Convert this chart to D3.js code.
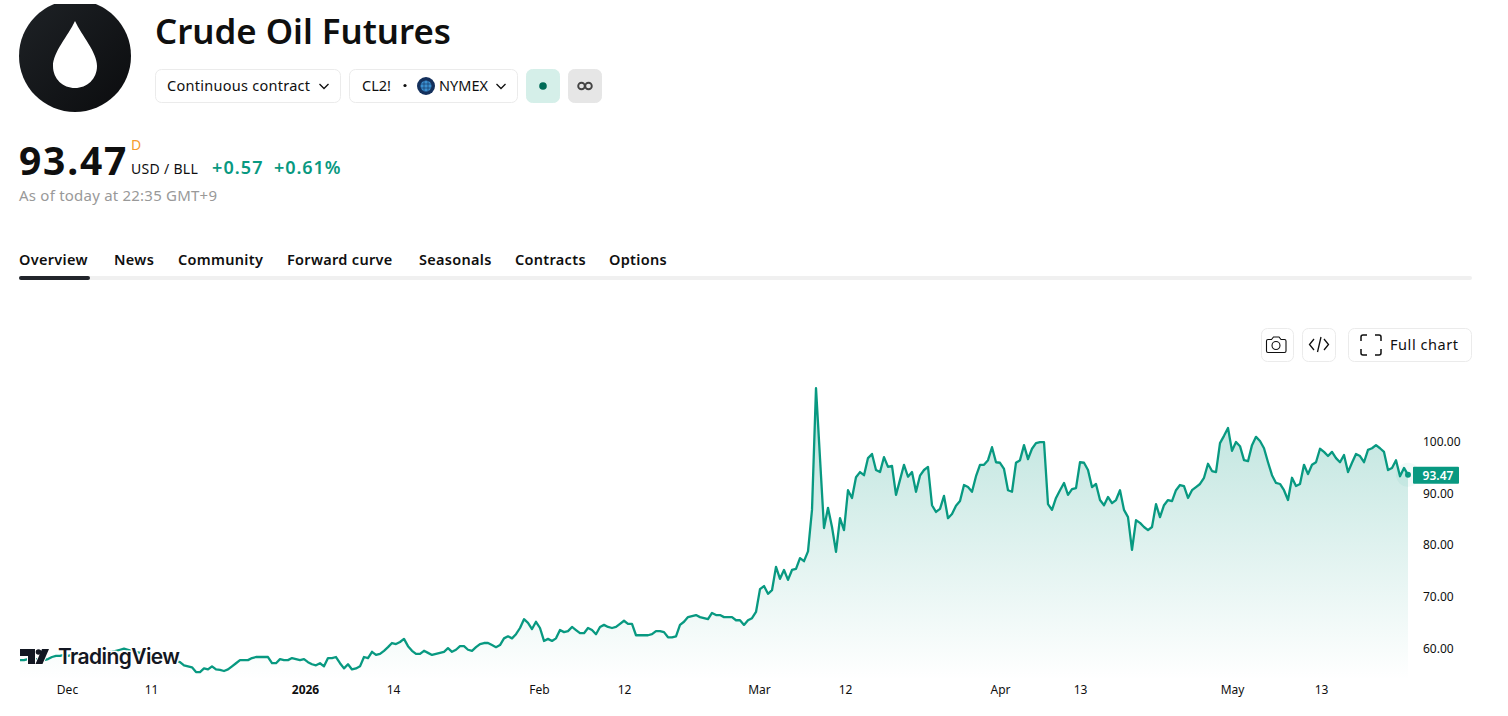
<!DOCTYPE html>
<html>
<head>
<meta charset="utf-8">
<title>Crude Oil Futures</title>
<script src="https://cdn.jsdelivr.net/npm/d3@7"></script>
<style>
  html, body { margin: 0; padding: 0; background: #fff; overflow: hidden; }
  text { font-family: "Noto Sans", "Open Sans", sans-serif; fill: #0f0f0f; }
</style>
</head>
<body>
<div id="svgcontainer"></div>
<script>
// closing prices at an even step along the time axis
const closes = [
  57.7,57.7,57.9,58.1,57.9,57.7,57.7,57.9,58.3,58.5,58.5,58.7,58.5,58.7,58.7,58.9,58.9,58.7,58.9,58.9,
  59.1,59.1,59.3,59.3,59.5,59.7,59.9,59.7,59.5,59.3,59.1,59.3,58.9,58.7,58.7,58.3,58.1,57.9,57.7,57.5,
  57.3,56.7,56.5,56.3,55.4,55.4,56.1,55.9,56.5,55.9,55.8,55.6,55.9,56.5,57.1,57.7,57.7,57.7,58.1,58.3,
  58.3,58.3,58.3,57.1,57.1,57.9,57.7,57.7,58.1,57.9,57.7,57.9,57.3,56.9,56.7,57.1,56.5,58.1,58.1,58.3,
  57.1,56.1,56.9,55.9,56.1,56.5,58.3,58.1,59.3,58.7,58.9,59.5,60.2,61,60.8,61.2,61.8,60.4,59.5,58.9,
  58.9,59.5,59.1,58.7,58.9,59.1,59.3,60,59.3,59.7,60.4,60.4,59.7,59.5,60.2,60.8,61,61,60.6,60.2,
  60.6,61.9,62.3,61.9,62.7,63.9,65.6,64.9,63.7,65.1,63.9,61.4,61.8,61.4,61.9,63.5,63.1,63.3,64.1,63.5,
  62.9,62.9,63.9,63.5,62.7,64.1,64.5,64.1,63.9,64.1,64.7,65.3,64.7,64.7,62.5,62.5,62.5,62.5,62.7,63.3,
  63.3,63.1,62.1,62.1,62.3,64.5,65.1,66,66.2,66.4,66,65.8,65.6,66.8,66.4,66.4,66,66,66,65.4,
  65.4,64.5,65.4,65.8,67,71.4,72,70.5,71.2,75.7,73.4,75.1,73.2,75.1,75.3,77.4,76.8,78.7,86.7,110.2,
  96.7,83.2,87.1,83.4,78.6,85.1,82.8,90.5,89,93,94,93.4,96.7,97.5,94.4,94,96.9,95,95.2,89.6,
  92.5,95.4,93.1,94,90.2,93.3,94.4,95,87.6,86.3,86.9,89.4,85.1,85.9,87.5,88.4,91.5,91.1,90.2,93.2,
  95.4,95.4,96.3,98.8,95.9,95.8,94.6,90.5,90.2,95.8,96.3,99.2,96.5,98.5,99.6,99.8,99.8,87.8,86.7,89,
  90.5,91.9,89.6,90.7,90.9,95.9,95.8,94.4,91.1,91.7,88.6,87.6,89.2,88,88.6,90.5,86.7,85.3,79,84.7,
  84.2,83.4,82.8,83.4,87.8,85.3,87.6,88.6,88.4,90.5,91.5,91.3,89,90.5,91.1,91.7,92.9,95.6,94.2,94,
  99.6,101,102.5,98.1,99.8,99,96.3,96.1,99.2,100.8,100,98.6,95.9,93.4,91.9,91.7,90.5,88.6,92.9,91.3,
  91.7,95.4,93.6,95.4,95.9,98.5,97.9,97.1,97.9,96.7,95.9,97.3,94,95.8,97.5,97.1,95.9,98.3,98.6,99.2,
  98.6,97.9,94.4,94.8,96.3,93.2,94.8,93.47
];

// time axis
const timeTickBars = [11.75, 32.75, 71.25, 93.25, 129.75, 151, 184.75, 206.25, 245, 265, 303, 325.25];
const timeTickLabels = ["Dec", "11", "2026", "14", "Feb", "12", "Mar", "12", "Apr", "13", "May", "13"];

// price axis
const priceTicks = [60, 70, 80, 90, 100];

// page texts
const tabNames = ["Overview", "News", "Community", "Forward curve", "Seasonals", "Contracts", "Options"];
const tabStarts = [19, 114, 178, 287, 419, 515, 609];

const width = 1508;
const height = 716;
const green = "#089981";

const svg = d3.select("#svgcontainer")
    .append("svg").attr("width", width).attr("height", height)
    .style("display", "block");

const x = d3.scaleLinear().domain([0, closes.length - 1]).range([20, 1408]);
const y = d3.scaleLinear().domain([60, 100]).range([648.2, 441]);
const plotBottom = 680;

// area gradient
const defs = svg.append("defs");
const grad = defs.append("linearGradient")
    .attr("id", "areaFill")
    .attr("gradientUnits", "userSpaceOnUse")
    .attr("x1", 0).attr("x2", 0)
    .attr("y1", y(d3.max(closes))).attr("y2", plotBottom);
grad.append("stop").attr("offset", "0%").attr("stop-color", green).attr("stop-opacity", 0.28);
grad.append("stop").attr("offset", "100%").attr("stop-color", green).attr("stop-opacity", 0);

const logoGrad = defs.append("linearGradient")
    .attr("id", "logoFill")
    .attr("x1", 0).attr("y1", 0).attr("x2", 1).attr("y2", 1);
logoGrad.append("stop").attr("offset", "0%").attr("stop-color", "#1e2226");
logoGrad.append("stop").attr("offset", "100%").attr("stop-color", "#0b0c0e");

defs.append("clipPath").attr("id", "logoClip")
    .append("rect").attr("x", 0).attr("y", 4).attr("width", 200).attr("height", 120);

// symbol logo
svg.append("circle")
    .attr("cx", 75).attr("cy", 56).attr("r", 56)
    .attr("fill", "url(#logoFill)")
    .attr("clip-path", "url(#logoClip)");
svg.append("path")
    .attr("d", "M75 21 C68 36 53 52 53 66 C53 79 63 88 75 88 C87 88 97 79 97 66 C97 52 82 36 75 21 Z")
    .attr("fill", "#fff");

// header
svg.append("text").text("Crude Oil Futures")
    .attr("x", 155).attr("y", 44)
    .attr("font-size", 34.8).attr("font-weight", 600);

function button(bx, bw, fill, stroke) {
    svg.append("rect")
        .attr("x", bx + 0.5).attr("y", 69.5)
        .attr("width", bw - 1).attr("height", 33).attr("rx", 6)
        .attr("fill", fill).attr("stroke", stroke);
}
function chevron(cx, cy) {
    svg.append("path")
        .attr("d", `M${cx - 4.5} ${cy - 2} L${cx} ${cy + 2.5} L${cx + 4.5} ${cy - 2}`)
        .attr("fill", "none").attr("stroke", "#0f0f0f").attr("stroke-width", 1.3);
}

button(155, 186, "#fff", "#ebebeb");
svg.append("text").text("Continuous contract")
    .attr("x", 167).attr("y", 91).attr("font-size", 14.5).attr("letter-spacing", 0.27);
chevron(324, 86);

button(349, 169, "#fff", "#ebebeb");
svg.append("text").text("CL2!").attr("x", 362).attr("y", 91).attr("font-size", 14.5);
svg.append("circle").attr("cx", 405).attr("cy", 85.5).attr("r", 1.6).attr("fill", "#0f0f0f");
svg.append("circle").attr("cx", 426).attr("cy", 86).attr("r", 9).attr("fill", "#14305c");
svg.append("circle").attr("cx", 426).attr("cy", 86).attr("r", 5.5).attr("fill", "#3a8fd0");
svg.append("path")
    .attr("d", "M420.5 84 h11 M420.5 88 h11 M424 80.8 v10.4 M428 80.8 v10.4")
    .attr("stroke", "#14305c").attr("stroke-width", 0.6).attr("fill", "none");
svg.append("text").text("NYMEX").attr("x", 439).attr("y", 91).attr("font-size", 14.5);
chevron(501, 86);

button(526, 34, "#d5efe9", "#d5efe9");
svg.append("circle").attr("cx", 543).attr("cy", 86).attr("r", 3.8).attr("fill", "#006b57");
button(568, 34, "#e6e6e6", "#e6e6e6");
svg.selectAll(".loop")
    .data([581.5, 588.5])
    .join("circle")
    .attr("class", "loop")
    .attr("cx", d => d).attr("cy", 86).attr("r", 3.3)
    .attr("fill", "none").attr("stroke", "#444").attr("stroke-width", 1.9);

// quote
svg.append("text").text("93.47")
    .attr("x", 19).attr("y", 175).attr("font-size", 39).attr("font-weight", 700).attr("letter-spacing", 1.8);
svg.append("text").text("D")
    .attr("x", 131).attr("y", 150).attr("font-size", 14).style("fill", "#f59b2e");
svg.append("text").text("USD / BLL")
    .attr("x", 131).attr("y", 174).attr("font-size", 14).attr("letter-spacing", 0.3);
svg.append("text").text("+0.57")
    .attr("x", 212).attr("y", 174).attr("font-size", 18).attr("font-weight", 600).attr("letter-spacing", 1.1).style("fill", green);
svg.append("text").text("+0.61%")
    .attr("x", 274).attr("y", 174).attr("font-size", 18).attr("font-weight", 600).attr("letter-spacing", 0.9).style("fill", green);
svg.append("text").text("As of today at 22:35 GMT+9")
    .attr("x", 19).attr("y", 201).attr("font-size", 15).attr("letter-spacing", 0.22).style("fill", "#999");

// tabs
svg.selectAll(".tab")
    .data(tabNames)
    .join("text")
    .attr("class", "tab")
    .attr("x", (d, i) => tabStarts[i])
    .attr("y", 265)
    .attr("font-size", 14.5)
    .attr("font-weight", 600)
    .attr("letter-spacing", 0.3)
    .text(d => d);

svg.append("rect")
    .attr("x", 19).attr("y", 276).attr("width", 1453).attr("height", 4).attr("rx", 2)
    .attr("fill", "#f0f0f0");
svg.append("rect")
    .attr("x", 19).attr("y", 276).attr("width", 71).attr("height", 4).attr("rx", 2)
    .attr("fill", "#22252b");

// chart tool buttons
function toolBox(bx, bw) {
    svg.append("rect")
        .attr("x", bx + 0.5).attr("y", 328.5)
        .attr("width", bw - 1).attr("height", 33).attr("rx", 6)
        .attr("fill", "#fff").attr("stroke", "#ebebeb");
}
toolBox(1261, 33);
svg.append("path")
    .attr("d", "M1268 339.5 h3.5 l2 -2.5 h5.5 l2 2.5 h3.5 a1.5 1.5 0 0 1 1.5 1.5 v10 a1.5 1.5 0 0 1 -1.5 1.5 h-16.5 a1.5 1.5 0 0 1 -1.5 -1.5 v-10 a1.5 1.5 0 0 1 1.5 -1.5 Z")
    .attr("fill", "none").attr("stroke", "#0f0f0f").attr("stroke-width", 1.1);
svg.append("circle").attr("cx", 1276).attr("cy", 345.5).attr("r", 4)
    .attr("fill", "none").attr("stroke", "#0f0f0f").attr("stroke-width", 1.1);

toolBox(1302, 34);
svg.append("path")
    .attr("d", "M1314 339 l-4.5 5.5 l4.5 5.5 M1324 339 l4.5 5.5 l-4.5 5.5 M1321 337 l-3.5 15")
    .attr("fill", "none").attr("stroke", "#0f0f0f").attr("stroke-width", 1.3);

toolBox(1348, 124);
svg.append("path")
    .attr("d", "M1361 341 v-4 a2 2 0 0 1 2 -2 h4 M1375 335 h4 a2 2 0 0 1 2 2 v4 M1381 349 v4 a2 2 0 0 1 -2 2 h-4 M1367 355 h-4 a2 2 0 0 1 -2 -2 v-4")
    .attr("fill", "none").attr("stroke", "#0f0f0f").attr("stroke-width", 1.5);
svg.append("text").text("Full chart")
    .attr("x", 1390).attr("y", 350).attr("font-size", 14.5).attr("letter-spacing", 0.55);

// price area and line
const area = d3.area()
    .x((d, i) => x(i))
    .y0(plotBottom)
    .y1(d => y(d));
const line = d3.line()
    .x((d, i) => x(i))
    .y(d => y(d));

svg.append("path").datum(closes)
    .attr("d", area)
    .attr("fill", "url(#areaFill)");
svg.append("path").datum(closes)
    .attr("d", line)
    .attr("fill", "none")
    .attr("stroke", green)
    .attr("stroke-width", 2.3)
    .attr("stroke-linejoin", "round");

// last price marker
const lastClose = closes[closes.length - 1];
const lastX = x(closes.length - 1);
svg.append("circle")
    .attr("cx", lastX).attr("cy", y(lastClose)).attr("r", 12)
    .attr("fill", green).attr("fill-opacity", 0.05);
svg.append("circle")
    .attr("cx", lastX).attr("cy", y(lastClose)).attr("r", 3)
    .attr("fill", green);

// axes
const priceAxis = d3.axisRight(y)
    .tickValues(priceTicks)
    .tickSize(0)
    .tickPadding(0)
    .tickFormat(d3.format(".2f"));
const priceG = svg.append("g")
    .attr("transform", "translate(1423,0.5)")
    .call(priceAxis);
priceG.select(".domain").remove();
priceG.attr("font-family", null);
priceG.selectAll("text").attr("font-size", 12);

const timeAxis = d3.axisBottom(x)
    .tickValues(timeTickBars)
    .tickSize(0)
    .tickPadding(0)
    .tickFormat((d, i) => timeTickLabels[i]);
const timeG = svg.append("g")
    .attr("transform", "translate(0,685)")
    .call(timeAxis);
timeG.select(".domain").remove();
timeG.attr("font-family", null);
timeG.selectAll("text")
    .attr("font-size", 12)
    .attr("font-weight", d => d === 71.25 ? 700 : 400);

// last price tag
svg.append("rect")
    .attr("x", 1413).attr("y", y(lastClose) - 8)
    .attr("width", 46).attr("height", 17).attr("rx", 1)
    .attr("fill", green);
svg.append("text").text(d3.format(".2f")(lastClose))
    .attr("x", 1438).attr("y", y(lastClose) + 5)
    .attr("text-anchor", "middle")
    .attr("font-size", 12).attr("font-weight", 600)
    .style("fill", "#fff");

// TradingView watermark, with a white halo over the price line
svg.append("path")
    .attr("d", "M20 649 h15 v15 h-7 v-8 h-8 Z M42 649 h7 l-6.5 15 h-7 Z")
    .attr("fill", "#131722")
    .attr("stroke", "#fff").attr("stroke-width", 2)
    .style("paint-order", "stroke");
svg.append("circle").attr("cx", 38.5).attr("cy", 652).attr("r", 2.8).attr("fill", "#131722");
svg.append("text").text("TradingView")
    .attr("x", 58).attr("y", 664)
    .attr("font-size", 21).attr("font-weight", 600)
    .style("font-family", "Inter, sans-serif")
    .attr("letter-spacing", -0.6)
    .style("fill", "#131722")
    .style("stroke", "#fff").style("stroke-width", 3)
    .style("paint-order", "stroke");
</script>
</body>
</html>
